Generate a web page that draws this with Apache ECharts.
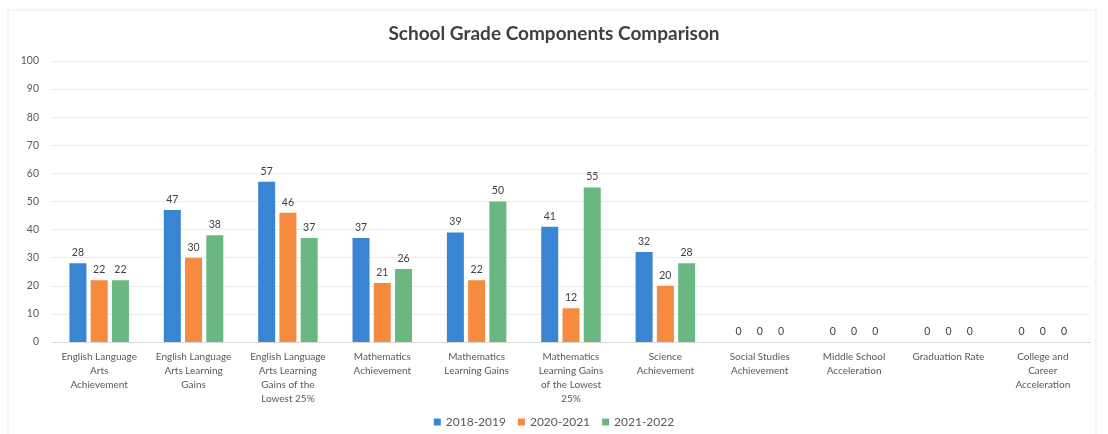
<!DOCTYPE html>
<html>
<head>
<meta charset="utf-8">
<script src="https://cdn.jsdelivr.net/npm/echarts@6/dist/echarts.min.js"></script>
<style>
  html, body { margin: 0; padding: 0; background: #fff; }
  #chart { width: 1108px; height: 434px; }
</style>
</head>
<body>
<div id="chart"></div>
<script>
const categories = [
  'English Language\nArts\nAchievement',
  'English Language\nArts Learning\nGains',
  'English Language\nArts Learning\nGains of the\nLowest 25%',
  'Mathematics\nAchievement',
  'Mathematics\nLearning Gains',
  'Mathematics\nLearning Gains\nof the Lowest\n25%',
  'Science\nAchievement',
  'Social Studies\nAchievement',
  'Middle School\nAcceleration',
  'Graduation Rate',
  'College and\nCareer\nAcceleration'
]
const seriesNames = ['2018-2019', '2020-2021', '2021-2022']
const values2018 = [28, 47, 57, 37, 39, 41, 32, 0, 0, 0, 0]
const values2020 = [22, 30, 46, 21, 22, 12, 20, 0, 0, 0, 0]
const values2021 = [22, 38, 37, 26, 50, 55, 28, 0, 0, 0, 0]

const COLORS = ['#3a84d4', '#f68b40', '#6bb781']
const FONT = 'Lato, "Open Sans", sans-serif'

const chart = echarts.init(document.getElementById('chart'))

function bar(name, data) {
  return {
    name,
    type: 'bar',
    data,
    barWidth: 17,
    barGap: '25%',
    label: { show: true, position: 'top', distance: 5, fontSize: 10.5, color: '#404040', fontFamily: FONT }
  }
}

chart.setOption({
  color: COLORS,
  textStyle: { fontFamily: FONT },
  title: {
    text: 'School Grade Components Comparison',
    left: 'center',
    top: 19,
    textStyle: { fontSize: 19, fontWeight: 'bold', color: '#404040', fontFamily: FONT }
  },
  graphic: [{
    type: 'rect',
    shape: { x: 8, y: 10, width: 1088, height: 440 },
    style: { fill: 'none', stroke: '#e8e8e8', lineWidth: 1 },
    silent: true
  }],
  legend: {
    data: seriesNames,
    bottom: 1,
    left: 'center',
    icon: 'rect',
    itemWidth: 7,
    itemHeight: 7,
    itemGap: 12,
    textStyle: { fontSize: 12, color: '#595959', fontFamily: FONT }
  },
  grid: { left: 52, right: 18, top: 61, bottom: 92 },
  xAxis: {
    type: 'category',
    data: categories,
    axisTick: { show: false },
    axisLine: { lineStyle: { color: '#d9d9d9' } },
    axisLabel: { interval: 0, fontSize: 10, color: '#595959', lineHeight: 14, margin: 8, fontFamily: FONT }
  },
  yAxis: {
    type: 'value',
    min: 0,
    max: 100,
    interval: 10,
    axisLine: { show: false },
    axisTick: { show: false },
    axisLabel: { fontSize: 10.5, color: '#595959', margin: 13, fontFamily: FONT },
    splitLine: { lineStyle: { color: '#ececec' } }
  },
  series: [
    bar(seriesNames[0], values2018),
    bar(seriesNames[1], values2020),
    bar(seriesNames[2], values2021)
  ]
})
</script>
</body>
</html>
